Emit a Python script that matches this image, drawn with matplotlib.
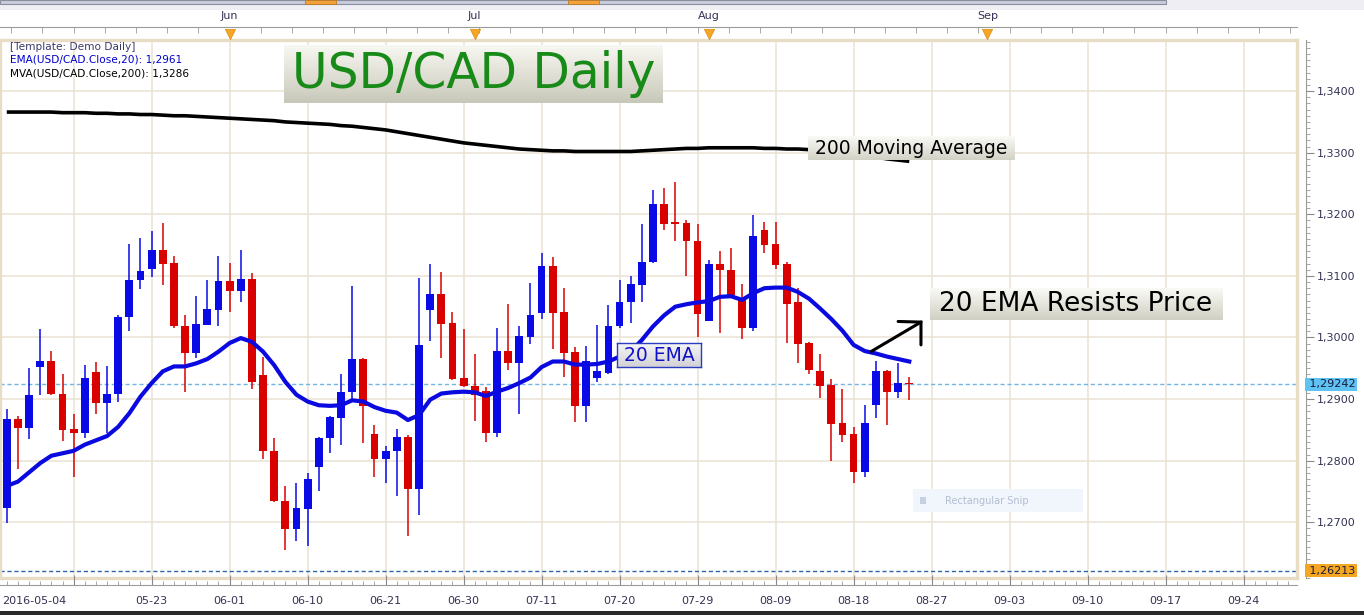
import matplotlib
matplotlib.use('Agg')
import matplotlib.pyplot as plt
import numpy as np
from matplotlib.patches import Rectangle
from matplotlib.transforms import blended_transform_factory

# ── DATA (USD/CAD daily) ─────────────────────────────────────────────────
opens = [1.2723, 1.2868, 1.2853, 1.2952, 1.2962, 1.2908, 1.2852, 1.2845, 1.2944, 1.2893,
         1.2908, 1.3033, 1.3093, 1.3111, 1.3142, 1.3121, 1.3019, 1.2975, 1.3021, 1.3045,
         1.3092, 1.3076, 1.3095, 1.2939, 1.2816, 1.2735, 1.2689, 1.2722, 1.2790, 1.2836,
         1.2870, 1.2911, 1.2965, 1.2843, 1.2803, 1.2815, 1.2839, 1.2754, 1.3044, 1.3071,
         1.3023, 1.2934, 1.2922, 1.2913, 1.2845, 1.2978, 1.2959, 1.3001, 1.3040, 1.3116,
         1.3042, 1.2977, 1.2889, 1.2935, 1.2943, 1.3018, 1.3057, 1.3086, 1.3122, 1.3217,
         1.3186, 1.3186, 1.3157, 1.3027, 1.3120, 1.3110, 1.3061, 1.3016, 1.3175, 1.3152,
         1.3119, 1.3057, 1.2991, 1.2946, 1.2923, 1.2861, 1.2843, 1.2781, 1.2890, 1.2946,
         1.2912, 1.2926]
highs = [1.2884, 1.2873, 1.2950, 1.3013, 1.2978, 1.2941, 1.2875, 1.2955, 1.2960, 1.2954,
         1.3036, 1.3152, 1.3162, 1.3173, 1.3186, 1.3132, 1.3036, 1.3067, 1.3093, 1.3132,
         1.3121, 1.3142, 1.3104, 1.2969, 1.2836, 1.2759, 1.2764, 1.2780, 1.2838, 1.2872,
         1.2941, 1.3084, 1.2966, 1.2858, 1.2824, 1.2852, 1.2842, 1.3097, 1.3119, 1.3106,
         1.3041, 1.3013, 1.2973, 1.2920, 1.3015, 1.3054, 1.3019, 1.3088, 1.3137, 1.3130,
         1.3081, 1.2984, 1.2986, 1.3020, 1.3053, 1.3093, 1.3100, 1.3184, 1.3240, 1.3242,
         1.3252, 1.3191, 1.3184, 1.3126, 1.3140, 1.3146, 1.3087, 1.3199, 1.3188, 1.3188,
         1.3122, 1.3080, 1.2992, 1.2973, 1.2932, 1.2916, 1.2854, 1.2890, 1.2962, 1.2947,
         1.2958, 1.2936]
lows = [1.2698, 1.2786, 1.2835, 1.2906, 1.2906, 1.2832, 1.2773, 1.2836, 1.2875, 1.2845,
        1.2895, 1.3011, 1.3078, 1.3099, 1.3086, 1.3015, 1.2911, 1.2967, 1.3020, 1.3018,
        1.3042, 1.3057, 1.2916, 1.2803, 1.2733, 1.2655, 1.2670, 1.2661, 1.2750, 1.2813,
        1.2826, 1.2899, 1.2829, 1.2773, 1.2763, 1.2742, 1.2678, 1.2711, 1.2995, 1.2967,
        1.2931, 1.2920, 1.2865, 1.2831, 1.2839, 1.2948, 1.2876, 1.2989, 1.3030, 1.2982,
        1.2936, 1.2863, 1.2862, 1.2927, 1.2941, 1.3015, 1.3024, 1.3057, 1.3121, 1.3175,
        1.3157, 1.3100, 1.3001, 1.3026, 1.3007, 1.3066, 1.2997, 1.3010, 1.3137, 1.3111,
        1.2991, 1.2959, 1.2940, 1.2902, 1.2799, 1.2831, 1.2764, 1.2773, 1.2870, 1.2858,
        1.2902, 1.2899]
closes = [1.2868, 1.2853, 1.2906, 1.2962, 1.2908, 1.2850, 1.2845, 1.2934, 1.2893, 1.2908,
          1.3033, 1.3093, 1.3108, 1.3142, 1.3120, 1.3018, 1.2975, 1.3022, 1.3046, 1.3092,
          1.3076, 1.3095, 1.2928, 1.2815, 1.2734, 1.2689, 1.2723, 1.2771, 1.2837, 1.2871,
          1.2912, 1.2965, 1.2888, 1.2803, 1.2816, 1.2839, 1.2754, 1.2988, 1.3071, 1.3022,
          1.2932, 1.2922, 1.2906, 1.2845, 1.2978, 1.2959, 1.3003, 1.3037, 1.3116, 1.3040,
          1.2975, 1.2889, 1.2962, 1.2945, 1.3019, 1.3057, 1.3087, 1.3122, 1.3217, 1.3185,
          1.3185, 1.3156, 1.3038, 1.3120, 1.3109, 1.3069, 1.3016, 1.3165, 1.3150, 1.3118,
          1.3054, 1.2990, 1.2947, 1.2922, 1.2860, 1.2842, 1.2781, 1.2861, 1.2946, 1.2912,
          1.2926, 1.2924]
ema20 = [1.2759, 1.2766, 1.2781, 1.2796, 1.2808, 1.2812, 1.2816, 1.2826, 1.2833, 1.2840,
         1.2855, 1.2877, 1.2904, 1.2926, 1.2945, 1.2953, 1.2953, 1.2958, 1.2965, 1.2977,
         1.2991, 1.2999, 1.2993, 1.2977, 1.2955, 1.2928, 1.2907, 1.2896, 1.2890, 1.2889,
         1.2890, 1.2898, 1.2896, 1.2887, 1.2881, 1.2878, 1.2866, 1.2874, 1.2899, 1.2909,
         1.2911, 1.2912, 1.2911, 1.2905, 1.2912, 1.2918, 1.2926, 1.2935, 1.2952, 1.2961,
         1.2961, 1.2956, 1.2956, 1.2957, 1.2961, 1.2969, 1.2977, 1.2996, 1.3018, 1.3036,
         1.3050, 1.3054, 1.3057, 1.3059, 1.3066, 1.3067, 1.3061, 1.3072, 1.3080, 1.3081,
         1.3081, 1.3074, 1.3063, 1.3047, 1.3030, 1.3011, 1.2988, 1.2978, 1.2974, 1.2969,
         1.2965, 1.2961]
mva200 = [1.3366, 1.3366, 1.3366, 1.3366, 1.3366, 1.3365, 1.3365, 1.3365, 1.3364, 1.3364,
          1.3363, 1.3363, 1.3362, 1.3362, 1.3361, 1.3360, 1.3360, 1.3359, 1.3358, 1.3357,
          1.3356, 1.3355, 1.3354, 1.3353, 1.3352, 1.3350, 1.3349, 1.3348, 1.3347, 1.3346,
          1.3344, 1.3343, 1.3341, 1.3339, 1.3337, 1.3334, 1.3331, 1.3328, 1.3325, 1.3322,
          1.3319, 1.3316, 1.3314, 1.3312, 1.3310, 1.3308, 1.3306, 1.3305, 1.3304, 1.3303,
          1.3303, 1.3302, 1.3302, 1.3302, 1.3302, 1.3302, 1.3302, 1.3303, 1.3304, 1.3305,
          1.3306, 1.3307, 1.3307, 1.3308, 1.3308, 1.3308, 1.3308, 1.3308, 1.3307, 1.3307,
          1.3306, 1.3306, 1.3305, 1.3305, 1.3304, 1.3302, 1.3299, 1.3296, 1.3293, 1.3290,
          1.3288, 1.3286]

date_idx = [6, 13, 20, 27, 34, 41, 48, 55, 62, 69, 76, 83, 90, 97, 104, 111]
date_lbl = ['', '05-23', '06-01', '06-10', '06-21', '06-30', '07-11', '07-20',
            '07-29', '08-09', '08-18', '08-27', '09-03', '09-10', '09-17', '09-24']
month_idx = [20, 42, 63, 88]
month_lbl = ['Jun', 'Jul', 'Aug', 'Sep']
price_ticks = [1.27, 1.28, 1.29, 1.30, 1.31, 1.32, 1.33, 1.34]
last_price = 1.29242
low_mark = 1.26213

# ── LAYOUT ───────────────────────────────────────────────────────────────
W, H = 1364, 615
fig = plt.figure(figsize=(W / 100, H / 100), dpi=100)
fig.patch.set_facecolor('white')

def pbox(x0, y0, x1, y1):
    return [x0 / W, 1 - y1 / H, (x1 - x0) / W, (y1 - y0) / H]

def comma(v, nd=4):
    return f'{v:.{nd}f}'.replace('.', ',')

XL = (-0.61, 115.8)
YL = (1.26095, 1.34830)
C_UP, C_DN = '#0a0ae6', '#d90000'
C_LBL = '#333355'
C_GRID = '#ebe2d2'

# top tool strip / bottom dark strip
fig.add_artist(Rectangle((0, 1 - 10 / H), 1, 10 / H, transform=fig.transFigure,
                         fc='#eeeef3', ec='none'))
fig.add_artist(Rectangle((0, 1 - 4 / H), 1166 / W, 4 / H, transform=fig.transFigure,
                         fc='#c9cdd9', ec='#8a8ea0', lw=0.8))
for bx in (305, 568):
    fig.add_artist(Rectangle((bx / W, 1 - 4 / H), 31 / W, 4 / H, transform=fig.transFigure,
                             fc='#f2a23a', ec='#c07a20', lw=0.6))
fig.add_artist(Rectangle((0, 0), 1, 4 / H, transform=fig.transFigure, fc='#2b2b2b', ec='none'))

# ── MAIN PRICE PANEL ─────────────────────────────────────────────────────
ax = fig.add_axes(pbox(0, 40, 1297, 578))
ax.set_xlim(*XL)
ax.set_ylim(*YL)
ax.set_xticks(date_idx)
ax.set_yticks(price_ticks)
ax.tick_params(length=0, labelbottom=False, labelleft=False)
ax.grid(True, color=C_GRID, lw=1.1)
ax.set_axisbelow(True)
for s in ax.spines.values():
    s.set_color('#e8dcc4')
    s.set_linewidth(2.4)

ax.axhline(last_price, color='#73b6e2', lw=1, ls=(0, (3, 2)), zorder=1)
ax.axhline(low_mark, color='#2c66a6', lw=1, ls=(0, (3, 2)), zorder=1)

idx = np.arange(len(opens))
o, h, l, c = map(np.array, (opens, highs, lows, closes))
cols = [C_UP if cc >= oo else C_DN for oo, cc in zip(o, c)]
ax.vlines(idx, l, h, colors=cols, lw=1.1, zorder=3)
body = np.maximum(np.abs(c - o), 0.00018)
ax.bar(idx, body, bottom=np.minimum(o, c), width=0.7, color=cols, lw=0, zorder=4)

ax.plot(idx, mva200, color='black', lw=2.6, solid_capstyle='butt', zorder=5)
ax.plot(idx, ema20, color='#0a0ae0', lw=3.0, solid_joinstyle='round', zorder=6)

# black arrow "resists"
ax.plot([77.6, 82.05], [1.29775, 1.3025], color='black', lw=2.2, zorder=7,
        solid_capstyle='round')
ax.plot([80.0, 82.05, 82.05], [1.3026, 1.3025, 1.2988], color='black', lw=2.2,
        zorder=7, solid_capstyle='round', solid_joinstyle='miter')

# ── RIGHT PRICE AXIS ─────────────────────────────────────────────────────
axr = fig.add_axes(pbox(0, 40, 1306, 578))
axr.patch.set_visible(False)
axr.set_xlim(*XL)
axr.set_ylim(*YL)
for k, s in axr.spines.items():
    s.set_visible(k == 'right')
axr.spines['right'].set_color('#9a9a9a')
axr.set_xticks([])
axr.yaxis.tick_right()
axr.set_yticks(price_ticks)
axr.set_yticklabels([comma(p) for p in price_ticks])
axr.set_yticks(np.round(np.arange(1.261, 1.3485, 0.001), 3), minor=True)
axr.tick_params(axis='y', which='major', direction='out', length=6, width=0.8,
                color='#8a8a8a', labelsize=8, labelcolor=C_LBL, pad=2)
axr.tick_params(axis='y', which='minor', direction='out', length=3, width=0.6,
                color='#9a9a9a')
tag_tr = blended_transform_factory(axr.transAxes, axr.transData)
axr.text(1.0, last_price, ' ' + comma(last_price, 5), transform=tag_tr,
         ha='left', va='center', fontsize=8, color='#1a1a3a',
         bbox=dict(boxstyle='square,pad=0.12', fc='#5ec3f2', ec='none'))
axr.text(1.0, low_mark, ' ' + comma(low_mark, 5), transform=tag_tr,
         ha='left', va='center', fontsize=8, color='#1a1a3a',
         bbox=dict(boxstyle='square,pad=0.12', fc='#f5a623', ec='none'))

# ── BOTTOM DATE AXIS ─────────────────────────────────────────────────────
axb = fig.add_axes(pbox(0, 40, 1297, 585))
axb.patch.set_visible(False)
axb.set_xlim(*XL)
axb.set_yticks([])
for k, s in axb.spines.items():
    s.set_visible(k == 'bottom')
axb.spines['bottom'].set_color('#9a9a9a')
axb.set_xticks(date_idx)
axb.set_xticklabels(date_lbl)
axb.set_xticks(np.arange(0, 116), minor=True)
axb.tick_params(axis='x', which='major', direction='in', length=7, width=0.8,
                color='#8a8a8a', labelsize=8, labelcolor=C_LBL, pad=8)
axb.tick_params(axis='x', which='minor', direction='in', length=3, width=0.6,
                color='#9a9a9a')
axb.text(-0.45, -0.03, '2016-05-04', transform=axb.get_xaxis_transform(),
         ha='left', va='center', fontsize=8, color=C_LBL)

# ── TOP MONTH AXIS ───────────────────────────────────────────────────────
axt = fig.add_axes(pbox(0, 27, 1297, 40))
axt.patch.set_visible(False)
axt.set_xlim(*XL)
axt.set_ylim(0, 1)
axt.set_yticks([])
for k, s in axt.spines.items():
    s.set_visible(k == 'top')
axt.spines['top'].set_color('#9a9a9a')
axt.xaxis.tick_top()
axt.set_xticks(month_idx)
axt.set_xticklabels(month_lbl)
axt.set_xticks(np.arange(0.4, 116, 2.8), minor=True)
axt.tick_params(axis='x', which='major', length=0, labelsize=8, labelcolor=C_LBL, pad=4)
axt.tick_params(axis='x', which='minor', direction='in', length=4, width=0.6,
                color='#9a9a9a')
axt.scatter(month_idx, [0.45] * len(month_idx), marker='v', s=55, color='#f5a623',
            edgecolors='#e08a10', linewidths=0.5, zorder=5, clip_on=False)

# ── LEGEND TEXT ──────────────────────────────────────────────────────────
fig.text(10 / W, 1 - 47 / H, '[Template: Demo Daily]', fontsize=7.6, color='#3a3a6a',
         va='center')
fig.text(10 / W, 1 - 60 / H, 'EMA(USD/CAD.Close,20): ' + comma(ema20[-1]),
         fontsize=7.6, color='#0000cc', va='center')
fig.text(10 / W, 1 - 73 / H, 'MVA(USD/CAD.Close,200): ' + comma(mva200[-1]),
         fontsize=7.6, color='black', va='center')

# ── LABEL BOXES (gradient) ───────────────────────────────────────────────
grad = np.linspace(0, 1, 64).reshape(-1, 1)

def label_box(x0, y0, x1, y1, text, color, fs, edge=None,
              top='#f8f8f3', bottom='#c8c8b9'):
    a = fig.add_axes(pbox(x0, y0, x1, y1))
    t = np.array(matplotlib.colors.to_rgb(top))
    b = np.array(matplotlib.colors.to_rgb(bottom))
    img = t[None, None, :] * (1 - grad[:, :, None]) + b[None, None, :] * grad[:, :, None]
    a.imshow(img, aspect='auto', extent=(0, 1, 0, 1), origin='upper')
    a.set_xlim(0, 1)
    a.set_ylim(0, 1)
    a.set_xticks([])
    a.set_yticks([])
    for s in a.spines.values():
        s.set_visible(edge is not None)
        if edge is not None:
            s.set_color(edge)
            s.set_linewidth(1)
    a.text(0.5, 0.5, text, ha='center', va='center', fontsize=fs, color=color)
    return a

label_box(284, 45, 663, 103, 'USD/CAD Daily', '#178a17', 35)
label_box(808, 136, 1015, 160, '200 Moving Average', 'black', 13.5,
          top='#fafaf6', bottom='#d2d2c6')
label_box(930, 288, 1222, 320, '20 EMA Resists Price', 'black', 19,
          top='#fafaf6', bottom='#d0d0c3')
label_box(617, 343, 701, 367, '20 EMA', '#1010c8', 13.5, edge='#2a3cc0',
          top='#f6f6f8', bottom='#d2d2d6')

# faint snipping-tool tag
snip = fig.add_axes(pbox(913, 489, 1083, 512))
snip.set_facecolor('#f1f5fc')
snip.set_xticks([])
snip.set_yticks([])
for s in snip.spines.values():
    s.set_visible(False)
snip.add_patch(Rectangle((0.04, 0.35), 0.035, 0.3, transform=snip.transAxes,
                         fc='#c5d0e2', ec='none'))
snip.text(0.19, 0.5, 'Rectangular Snip', transform=snip.transAxes, fontsize=7,
          color='#b3bed2', va='center')

fig.savefig('out.png', dpi=100, facecolor=fig.get_facecolor())
